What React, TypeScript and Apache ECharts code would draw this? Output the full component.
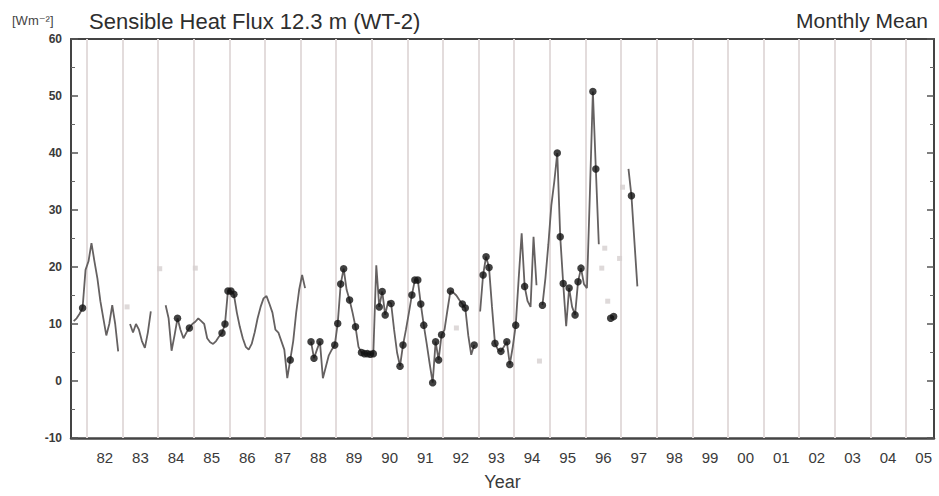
import React, { useEffect, useRef } from "react";
import * as echarts from "echarts";

// ---- data ----
const startYear = 1981;
const startMonth = 7; // first month of monthlyFlux: July 1981

// Sensible heat flux, monthly mean [W m-2]; null = no data
const monthlyFlux: (number | null)[] = [
  // 1981 Jul–Dec
  null, 10.5, 11, 11.8, 12.8, 19.5,
  // 1982
  21, 24.2, 21, 18, 14, 11, 8, 10, 13.3, 10, 5.2, null,
  // 1983
  null, null, 10, 8.5, 10, 9, 7, 5.8, 8.5, 12.2, null, null,
  // 1984
  null, null, 13.3, 11, 5.3, 8, 11, 9, 7.5, 8.5, 9.3, 10,
  // 1985
  10.4, 11, 10.5, 10, 7.5, 6.8, 6.5, 7, 7.8, 8.4, 10, 15.8,
  // 1986
  15.8, 15.2, 12, 9.5, 7.5, 6, 5.5, 6.5, 8.5, 11, 13, 14.5,
  // 1987
  14.9, 13.5, 12, 9, 8.5, 7, 5.5, 0.5, 3.7, 7, 12, 16,
  // 1988
  18.6, 16.3, null, 6.9, 4, 5.5, 6.9, 0.5, 2.5, 4.5, 5.5, 6.3,
  // 1989
  10.1, 17, 19.7, 16, 14.2, 12, 9.5, 6, 5, 4.8, 4.8, 4.7,
  // 1990
  4.8, 20.3, 13, 15.7, 11.6, 14, 13.6, 9, 5, 2.6, 6.3, 9,
  // 1991
  12, 15.1, 17.7, 17.7, 13.5, 9.8, 6.5, 3, -0.3, 6.9, 3.7, 8.1,
  // 1992
  9, 12.5, 15.8, 15.5, 15, 14.2, 13.5, 12.8, 8, 4.6, 6.3, null,
  // 1993
  12.2, 18.6, 21.8, 19.9, 13, 6.6, 5.5, 5.2, 6, 6.9, 2.9, 6,
  // 1994
  9.8, 18, 25.9, 16.6, 14, 13, 25.3, 16.8, null, 13.3, 18, 24,
  // 1995
  30.8, 35, 40, 25.3, 17.1, 9.6, 16.3, 13, 11.6, 17.4, 19.8, 17,
  // 1996
  16.3, 33, 50.8, 37.2, 24, null, null, null, 11, 11.3, null, null,
  // 1997 Jan–Jun
  null, null, 37.2, 32.5, 24.5, 16.6,
];

// months drawn with a black dot
const dotMonths: string[] = [
  "1981-11", "1984-07", "1984-11", "1985-10", "1985-11", "1985-12",
  "1986-01", "1986-02", "1987-09", "1988-04", "1988-05", "1988-07",
  "1988-12", "1989-01", "1989-02", "1989-03", "1989-05", "1989-07",
  "1989-09", "1989-10", "1989-11", "1989-12", "1990-01", "1990-03",
  "1990-04", "1990-05", "1990-07", "1990-10", "1990-11", "1991-02",
  "1991-03", "1991-04", "1991-05", "1991-06", "1991-09", "1991-10",
  "1991-11", "1991-12", "1992-03", "1992-07", "1992-08", "1992-11",
  "1993-02", "1993-03", "1993-04", "1993-06", "1993-08", "1993-10",
  "1993-11", "1994-01", "1994-04", "1994-10", "1995-03", "1995-04",
  "1995-05", "1995-07", "1995-09", "1995-10", "1995-11", "1996-03",
  "1996-04", "1996-09", "1996-10", "1997-04",
];

// isolated faint grey values
const faintMonths: string[] = [
  "1983-02", "1984-01", "1985-01", "1992-05", "1994-09",
  "1996-06", "1996-07", "1996-08", "1996-12", "1997-01",
];
const faintValues: number[] = [13, 19.7, 19.8, 9.3, 3.5, 19.8, 23.3, 14, 21.5, 34];

const gridYears: number[] = [
  1982, 1983, 1984, 1985, 1986, 1987, 1988, 1989, 1990, 1991, 1992, 1993,
  1994, 1995, 1996, 1997, 1998, 1999, 2000, 2001, 2002, 2003, 2004, 2005,
];

const FONT = "'Liberation Sans', Arial, Helvetica, sans-serif";

function keyToX(key: string): number {
  const [y, m] = key.split("-").map(Number);
  return y + (m - 0.5) / 12;
}
function indexOfKey(key: string): number {
  const [y, m] = key.split("-").map(Number);
  return (y - startYear) * 12 + (m - startMonth);
}

export default function App() {
  const ref = useRef<HTMLDivElement>(null);

  useEffect(() => {
    if (!ref.current) return;
    const chart = echarts.init(ref.current, null, { renderer: "svg" });

    const lineData = monthlyFlux.map((v, i) => {
      const mIdx = startMonth - 1 + i;
      const year = startYear + Math.floor(mIdx / 12);
      const month = (mIdx % 12) + 1;
      const x = year + (month - 0.5) / 12;
      return [x, v == null ? "-" : v];
    });
    const dotData = dotMonths
      .map((k) => [keyToX(k), monthlyFlux[indexOfKey(k)]])
      .filter((d) => d[1] != null);
    const faintData = faintMonths.map((k, i) => [keyToX(k), faintValues[i]]);

    const xMin = 1981.55;
    const xMax = 2005.79;

    chart.setOption({
      animation: false,
      backgroundColor: "#ffffff",
      title: [
        {
          text: "Sensible Heat Flux 12.3 m (WT-2)",
          left: 84,
          top: 5,
          textStyle: { fontFamily: FONT, fontSize: 22, fontWeight: "normal", color: "#2e2e2e" },
        },
        {
          text: "Monthly Mean",
          right: 6,
          top: 5,
          textStyle: { fontFamily: FONT, fontSize: 21, fontWeight: "normal", color: "#2e2e2e" },
        },
        {
          text: "[Wm⁻²]",
          left: 7,
          top: 9,
          textStyle: { fontFamily: "'Liberation Sans', 'DejaVu Sans', sans-serif", fontSize: 13, fontWeight: "normal", color: "#444" },
        },
      ],
      grid: { left: 71, top: 39, width: 863, height: 400, containLabel: false },
      xAxis: [
        {
          type: "value",
          min: xMin,
          max: xMax,
          position: "bottom",
          axisLine: { show: true, onZero: false, lineStyle: { color: "#444", width: 2.5 } },
          axisTick: { show: false },
          splitLine: { show: false },
          axisLabel: {
            customValues: gridYears.map((y) => y + 0.5),
            formatter: (v: number) => String(Math.floor(v) % 100).padStart(2, "0"),
            fontFamily: FONT,
            fontSize: 15,
            color: "#3a3a3a",
            margin: 12,
          },
          name: "Year",
          nameLocation: "middle",
          nameGap: 35,
          nameTextStyle: { fontFamily: FONT, fontSize: 18, color: "#3a3a3a" },
        },
        {
          type: "value",
          min: xMin,
          max: xMax,
          position: "top",
          axisLine: { show: true, onZero: false, lineStyle: { color: "#444", width: 2 } },
          axisTick: { show: false },
          axisLabel: { show: false },
          splitLine: { show: false },
        },
      ],
      yAxis: [
        {
          type: "value",
          min: -10,
          max: 60,
          interval: 10,
          position: "left",
          axisLine: { show: true, onZero: false, lineStyle: { color: "#444", width: 2 } },
          axisTick: { show: true, inside: true, length: 7, lineStyle: { color: "#555", width: 1.5 } },
          minorTick: { show: true, splitNumber: 2, length: 4, lineStyle: { color: "#666", width: 1 } },
          splitLine: { show: false },
          axisLabel: { fontFamily: FONT, fontSize: 12, fontWeight: "bold", color: "#3a3a3a", margin: 9 },
        },
        {
          type: "value",
          min: -10,
          max: 60,
          interval: 10,
          position: "right",
          axisLine: { show: true, onZero: false, lineStyle: { color: "#444", width: 2 } },
          axisTick: { show: true, inside: true, length: 7, lineStyle: { color: "#555", width: 1.5 } },
          minorTick: { show: true, splitNumber: 2, length: 4, lineStyle: { color: "#666", width: 1 } },
          splitLine: { show: false },
          axisLabel: { show: false },
        },
      ],
      series: [
        {
          name: "grid",
          type: "line",
          data: [],
          z: 1,
          silent: true,
          markLine: {
            z: 1,
            silent: true,
            symbol: "none",
            label: { show: false },
            lineStyle: { color: "#e3dcdc", width: 2, type: "solid" },
            emphasis: { disabled: true },
            data: gridYears.map((y) => ({ xAxis: y })),
          },
        },
        {
          name: "faint",
          type: "scatter",
          data: faintData,
          symbol: "rect",
          symbolSize: 5,
          itemStyle: { color: "#d6cfcf" },
          z: 2,
          silent: true,
        },
        {
          name: "flux",
          type: "line",
          data: lineData,
          showSymbol: false,
          symbol: "none",
          connectNulls: false,
          lineStyle: { color: "#656161", width: 1.8 },
          z: 3,
          silent: true,
        },
        {
          name: "dots",
          type: "scatter",
          data: dotData,
          symbol: "circle",
          symbolSize: 7.5,
          itemStyle: { color: "#111" },
          z: 4,
          silent: true,
        },
      ],
    });

    return () => chart.dispose();
  }, []);

  return (
    <div
      ref={ref}
      style={{ position: "fixed", left: 0, top: 0, width: 939, height: 496, background: "#fff" }}
    />
  );
}
